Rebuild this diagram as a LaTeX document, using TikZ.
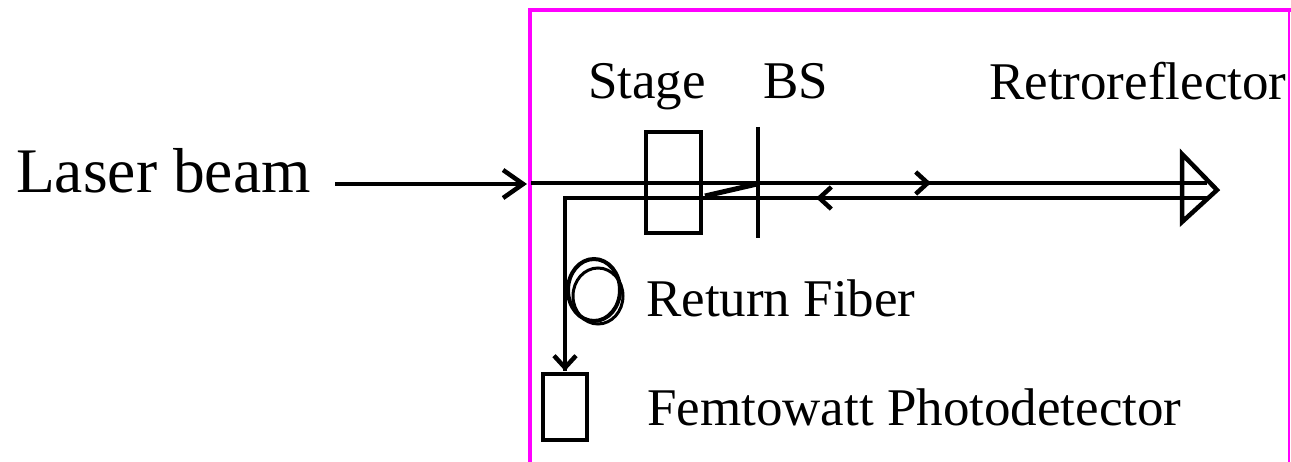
\documentclass[tikz,border=0pt]{standalone}
\usepackage{fontspec}
\setmainfont{Liberation Serif}
\usetikzlibrary{arrows.meta}
\definecolor{frame}{RGB}{255,0,255}
\tikzset{
  beam/.style={line width=4.5pt},
  lbl/.style={inner sep=0pt, anchor=base west, font=\fontsize{53pt}{60pt}\selectfont},
  big/.style={inner sep=0pt, anchor=base west, font=\fontsize{63.5pt}{70pt}\selectfont},
  tip/.style={-{Straight Barb[length=12pt,width=22pt,line width=4.5pt]}},
  bigtip/.style={-{Straight Barb[length=20pt,width=28pt,line width=4.5pt]}},
  frameline/.style={draw=frame}
}
\begin{document}
\begin{tikzpicture}[x=1pt,y=1pt]
\useasboundingbox (0,0) rectangle (1291,-462);
% frame
\coordinate (fbl) at (530,-462);
\coordinate (ftl) at (528,-10);
\coordinate (ftr) at (1289,-10);
\coordinate (fbr) at (1289,-462);
\draw[frameline, line width=4pt] (fbl) -- (530,-10);
\draw[frameline, line width=4pt] (ftl) -- (1291,-10);
\draw[frameline, line width=1.6pt] (ftr) -- (fbr);
% labels
\node[big] (laser) at (16,-193) {Laser beam};
\node[lbl] (stage) at (588,-99) {Stage};
\node[lbl] (bs) at (763,-99) {BS};
\node[lbl] (retro) at (989,-100) {Retroreflector};
\node[lbl] (fiber) at (646,-317) {Return Fiber};
\node[lbl] (pd) at (647,-425) {Femtowatt Photodetector};
% laser input arrow
\coordinate (lstart) at (335,-184);
\coordinate (lend) at (527,-184);
\draw[beam, bigtip] (lstart) -- (lend);
% beams
\coordinate (u0) at (531,-183);
\coordinate (u1) at (1207,-183);
\coordinate (d1) at (1207,-198);
\coordinate (dc) at (565,-198);
\coordinate (dtip) at (565,-371);
\draw[beam] (u0) -- (u1);
\draw[beam] (d1) -- (dc) -- (dtip);
\draw[beam, tip] (dc |- 0,-350) -- (dtip);
% mid arrows
\coordinate (ua) at (905,-183);
\coordinate (ub) at (931,-183);
\draw[beam, tip] (ua) -- (ub);
\coordinate (la) at (845,-198);
\coordinate (lb) at (816,-198);
\draw[beam, tip] (la) -- (lb);
% stage
\node[draw, minimum width=55pt, minimum height=101pt, inner sep=0pt, line width=4.5pt] (stagebox) at (673.5,-182.5) {};
% beam splitter
\coordinate (bst) at (758,-127);
\coordinate (bsb) at (758,-238);
\draw[beam] (bst) -- (bsb);
% diagonal reflection
\coordinate (dg1) at (705,-196);
\coordinate (dg2) at (757,-184);
\draw[line width=5pt] (dg1) -- (dg2);
% retroreflector
\coordinate (r1) at (1182,-154);
\coordinate (r2) at (1217,-190);
\coordinate (r3) at (1182,-222);
\draw[line width=4.5pt, line join=miter] (r1) -- (r2) -- (r3) -- cycle;
% fiber coil
\draw[line width=4pt] (594,-290) ellipse [x radius=26pt, y radius=31pt];
\draw[line width=3pt] (598,-296) ellipse [x radius=25pt, y radius=28pt];
% photodetector
\node[draw, line width=4.5pt, minimum width=44pt, minimum height=66pt, inner sep=0pt] (pdbox) at (565,-407) {};
\end{tikzpicture}
\end{document}
